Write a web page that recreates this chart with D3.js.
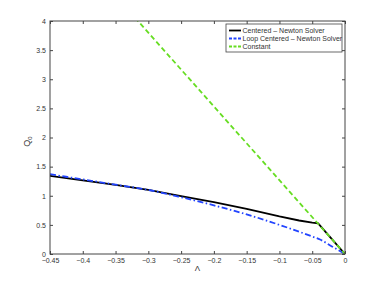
<!DOCTYPE html>
<html>
<head>
<meta charset="utf-8">
<style>
  body { margin: 0; background: #fff; }
  text { font-family: "Liberation Sans", Arial, sans-serif; }
</style>
</head>
<body>
<div id="chart"></div>
<script src="https://cdn.jsdelivr.net/npm/d3@7/dist/d3.min.js"></script>
<script>
// values
var centeredLambda = [-0.45, -0.40, -0.35, -0.30, -0.25, -0.20, -0.15, -0.10, -0.07, -0.05, -0.041, -0.02, 0];
var centeredQ      = [1.34, 1.265, 1.185, 1.10, 0.995, 0.89, 0.775, 0.645, 0.575, 0.537, 0.525, 0.256, 0];
var loopLambda = [-0.45, -0.40, -0.35, -0.30, -0.25, -0.20, -0.15, -0.10, -0.084, -0.05, -0.038, -0.02, 0];
var loopQ      = [1.37, 1.28, 1.19, 1.10, 0.975, 0.835, 0.68, 0.50, 0.438, 0.30, 0.248, 0.13, 0];
var constLambda = [-0.45, 0];
var constQ      = [5.7, 0];
var xTicks = [-0.45, -0.4, -0.35, -0.3, -0.25, -0.2, -0.15, -0.1, -0.05, 0];
var yTicks = [0, 0.5, 1, 1.5, 2, 2.5, 3, 3.5, 4];
var seriesNames = ["Centered \u2013 Newton Solver", "Loop Centered \u2013 Newton Solver", "Constant"];

function pairs(xs, ys) { return xs.map(function(d, i) { return [d, ys[i]]; }); }

var W = 382, H = 286;
var m = { l: 50, r: 37, t: 21, b: 32 };

var svg = d3.select("#chart").append("svg")
    .attr("width", W).attr("height", H);

var x = d3.scaleLinear().domain([-0.45, 0]).range([m.l, W - m.r]);
var y = d3.scaleLinear().domain([0, 4]).range([H - m.b, m.t]);

var fmt = function(d) { return d === 0 ? "0" : d3.format("")(d).replace("-", "\u2212"); };

svg.append("defs").append("clipPath").attr("id", "clip")
  .append("rect").attr("x", m.l).attr("y", m.t)
  .attr("width", x.range()[1] - m.l).attr("height", y.range()[0] - m.t);

var series = [
  { data: pairs(centeredLambda, centeredQ), color: "#000", dash: null, curve: d3.curveLinear },
  { data: pairs(loopLambda, loopQ), color: "#2244ff", dash: "6,2.5,1.5,2.5", curve: d3.curveMonotoneX },
  { data: pairs(constLambda, constQ), color: "#66dd22", dash: "5,3", curve: d3.curveLinear }
];

svg.append("g").attr("clip-path", "url(#clip)")
  .selectAll("path").data(series).enter().append("path")
    .attr("d", function(d) {
      return d3.line().curve(d.curve)
        .x(function(p) { return x(p[0]); })
        .y(function(p) { return y(p[1]); })(d.data);
    })
    .attr("fill", "none")
    .attr("stroke", function(d) { return d.color; })
    .attr("stroke-width", 1.8)
    .attr("stroke-dasharray", function(d) { return d.dash; });

// axes with inward ticks on all four sides
var axisColor = "#444";
function styleAxis(g) {
  g.select(".domain").remove();
  g.selectAll("line").attr("stroke", axisColor);
  g.selectAll("text").attr("font-size", 7).attr("fill", "#333");
}
svg.append("g").attr("transform", "translate(0," + y(0) + ")")
  .call(d3.axisBottom(x).tickValues(xTicks).tickSize(-3).tickPadding(4).tickFormat(fmt))
  .call(styleAxis);
svg.append("g").attr("transform", "translate(0," + y(4) + ")")
  .call(d3.axisTop(x).tickValues(xTicks).tickSize(-3).tickFormat(""))
  .call(styleAxis);
svg.append("g").attr("transform", "translate(" + x(-0.45) + ",0)")
  .call(d3.axisLeft(y).tickValues(yTicks).tickSize(-3).tickPadding(4).tickFormat(fmt))
  .call(styleAxis);
svg.append("g").attr("transform", "translate(" + x(0) + ",0)")
  .call(d3.axisRight(y).tickValues(yTicks).tickSize(-3).tickFormat(""))
  .call(styleAxis);

svg.append("rect")
  .attr("x", x(-0.45)).attr("y", y(4))
  .attr("width", x(0) - x(-0.45)).attr("height", y(0) - y(4))
  .attr("fill", "none").attr("stroke", axisColor).attr("stroke-width", 1);

// axis labels
svg.append("text").attr("x", (x(-0.45) + x(0)) / 2).attr("y", 271)
  .attr("text-anchor", "middle").attr("font-size", 8).attr("fill", "#333").text("\u039b");
var yl = svg.append("text")
  .attr("transform", "translate(30," + (y(2) + 4) + ") rotate(-90)")
  .attr("text-anchor", "middle").attr("font-size", 9).attr("fill", "#333");
yl.append("tspan").text("Q");
yl.append("tspan").attr("font-size", 6).attr("dy", 2).text("0");

// legend
var lg = svg.append("g").attr("transform", "translate(226,24)");
lg.append("rect").attr("width", 116).attr("height", 28)
  .attr("fill", "#fff").attr("stroke", axisColor).attr("stroke-width", 0.8);
var items = lg.selectAll(".item").data(series).enter().append("g")
  .attr("transform", function(d, i) { return "translate(0," + (6.5 + i * 8) + ")"; });
items.append("line").attr("x1", 3).attr("x2", 15)
  .attr("stroke", function(d) { return d.color; })
  .attr("stroke-width", 1.8)
  .attr("stroke-dasharray", function(d) { return d.dash ? "3,1.5" : null; });
items.append("text").attr("x", 16.5).attr("y", 2.5)
  .attr("font-size", 7).attr("fill", "#333")
  .text(function(d, i) { return seriesNames[i]; });
</script>
</body>
</html>
